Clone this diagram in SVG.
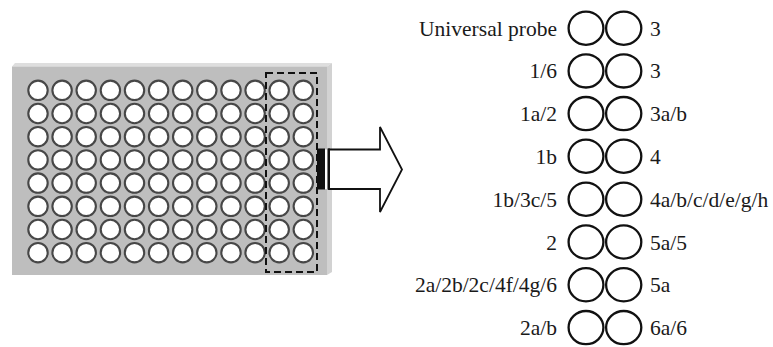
<svg xmlns="http://www.w3.org/2000/svg" xmlns:xlink="http://www.w3.org/1999/xlink" width="773" height="347" viewBox="0 0 773 347">
<style>
.well{fill:#ffffff;stroke:#474747;stroke-width:2.1}
.probe{fill:#ffffff;stroke:#111111;stroke-width:2.3}
.lbl{font-family:"Liberation Serif","Times New Roman",serif;font-size:21.5px;fill:#1a1a1a}
.l{text-anchor:end}
.dash{fill:none;stroke:#111111;stroke-width:2;stroke-dasharray:7 4}
</style>
<defs>
<g id="wellrow">
<circle class="well" cx="38" cy="0" r="9.7"/>
<circle class="well" cx="62.1" cy="0" r="9.7"/>
<circle class="well" cx="86.2" cy="0" r="9.7"/>
<circle class="well" cx="110.4" cy="0" r="9.7"/>
<circle class="well" cx="134.5" cy="0" r="9.7"/>
<circle class="well" cx="158.6" cy="0" r="9.7"/>
<circle class="well" cx="182.7" cy="0" r="9.7"/>
<circle class="well" cx="206.8" cy="0" r="9.7"/>
<circle class="well" cx="231" cy="0" r="9.7"/>
<circle class="well" cx="255.1" cy="0" r="9.7"/>
<circle class="well" cx="279.2" cy="0" r="9.7"/>
<circle class="well" cx="303.3" cy="0" r="9.7"/>
</g>
<g id="pair">
<ellipse class="probe" cx="586" cy="0" rx="17.4" ry="16.6"/>
<ellipse class="probe" cx="623.7" cy="0" rx="17.6" ry="16.6"/>
</g>
</defs>
<rect width="773" height="347" fill="#ffffff"/>
<g id="plate">
<polygon points="12,66.5 15,63 332,63 327,66.5" fill="#dedede"/>
<polygon points="327,66.5 332,63 332,272 327,275" fill="#d2d2d2"/>
<rect x="12" y="66.5" width="315" height="208.5" fill="#bebebe"/>
<use xlink:href="#wellrow" y="90.3"/>
<use xlink:href="#wellrow" y="113.5"/>
<use xlink:href="#wellrow" y="136.7"/>
<use xlink:href="#wellrow" y="159.9"/>
<use xlink:href="#wellrow" y="183.1"/>
<use xlink:href="#wellrow" y="206.3"/>
<use xlink:href="#wellrow" y="229.5"/>
<use xlink:href="#wellrow" y="252.7"/>
<rect class="dash" x="266" y="73" width="51" height="199"/>
</g>
<g id="connectors">
<polygon points="329,149.5 380,149.5 380,127 402,169.5 380,212 380,189 329,189" fill="#ffffff" stroke="#111111" stroke-width="1.8" stroke-linejoin="miter"/>
<rect x="317" y="148.5" width="8" height="41" fill="#111111"/>
<rect x="325" y="149.5" width="2.5" height="39.5" fill="#ffffff"/>
<rect x="327.5" y="148.5" width="2.5" height="41" fill="#111111"/>
</g>
<g id="row1"><use xlink:href="#pair" y="28.2"/><text class="lbl l" x="557" y="35.7">Universal probe</text><text class="lbl" x="650" y="35.7">3</text></g>
<g id="row2"><use xlink:href="#pair" y="70.9"/><text class="lbl l" x="557" y="78.4">1/6</text><text class="lbl" x="650" y="78.4">3</text></g>
<g id="row3"><use xlink:href="#pair" y="113.6"/><text class="lbl l" x="557" y="121.1">1a/2</text><text class="lbl" x="650" y="121.1">3a/b</text></g>
<g id="row4"><use xlink:href="#pair" y="156.2"/><text class="lbl l" x="557" y="163.7">1b</text><text class="lbl" x="650" y="163.7">4</text></g>
<g id="row5"><use xlink:href="#pair" y="199.2"/><text class="lbl l" x="557" y="206.7">1b/3c/5</text><text class="lbl" x="650" y="206.7">4a/b/c/d/e/g/h</text></g>
<g id="row6"><use xlink:href="#pair" y="242"/><text class="lbl l" x="557" y="249.5">2</text><text class="lbl" x="650" y="249.5">5a/5</text></g>
<g id="row7"><use xlink:href="#pair" y="284.8"/><text class="lbl l" x="557" y="292.3">2a/2b/2c/4f/4g/6</text><text class="lbl" x="650" y="292.3">5a</text></g>
<g id="row8"><use xlink:href="#pair" y="327.6"/><text class="lbl l" x="557" y="335.1">2a/b</text><text class="lbl" x="650" y="335.1">6a/6</text></g>
</svg>
